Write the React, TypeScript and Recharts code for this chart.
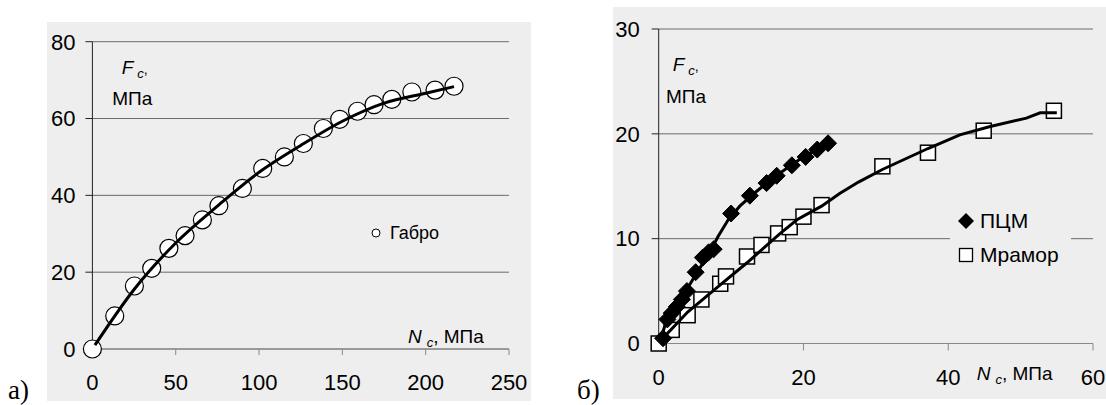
import React from 'react';
import { ComposedChart, Scatter, Line, XAxis, YAxis, CartesianGrid, Legend } from 'recharts';

// а) Габро
const gabbroX = [0, 13.4, 25.2, 35.6, 45.9, 55.6, 66, 75.9, 90, 102.2, 115.2, 126.6, 138.6, 148.4, 159.1, 169, 179.7, 191.7, 205.6, 217];
const gabbroY = [0, 8.6, 16.4, 21, 26.2, 29.5, 33.6, 37.3, 41.8, 47, 50, 53.5, 57.4, 59.8, 61.9, 63.6, 65, 66.9, 67.4, 68.4];
const gabbroFitX = [1.5, 25, 50, 75, 100, 125, 150, 175, 200, 217];
const gabbroFitY = [1, 15.5, 27.6, 37.2, 46, 53, 59.3, 64, 66.6, 68.3];

// б) ПЦМ и Мрамор
const pcmX = [0.6, 1.2, 1.8, 2.5, 3.2, 3.9, 5.1, 6.1, 6.9, 7.6, 10.0, 12.6, 14.9, 16.3, 18.4, 20.3, 21.9, 23.4];
const pcmY = [0.5, 2.3, 2.9, 3.5, 4.2, 5.0, 6.8, 8.2, 8.7, 9.0, 12.4, 14.1, 15.3, 16.0, 17.0, 17.8, 18.5, 19.1];
const pcmFitX = [0.3, 1, 2, 4, 5.5, 7, 8.2, 9.6, 11.2, 13.5, 15.8, 18.1, 20.4, 23.2];
const pcmFitY = [0.5, 2.0, 3.4, 5.3, 7.0, 8.6, 10.2, 11.8, 13.1, 14.5, 15.8, 16.9, 18.0, 18.9];

const marbleX = [0, 1.8, 4.0, 5.9, 8.5, 9.3, 12.2, 14.2, 16.5, 18.1, 20.0, 22.5, 30.9, 37.2, 44.9, 54.6];
const marbleY = [0, 1.3, 2.7, 4.2, 5.7, 6.4, 8.3, 9.4, 10.5, 11.1, 12.1, 13.2, 16.9, 18.2, 20.3, 22.2];
const marbleFitX = [0.3, 4, 8.5, 12.2, 16.8, 19.1, 22.5, 25, 27.6, 30.9, 37.2, 41.6, 45.8, 50.8, 52.7, 55];
const marbleFitY = [0.3, 3.0, 5.6, 7.7, 10.5, 11.8, 13.1, 14.3, 15.4, 16.6, 18.6, 19.9, 20.7, 21.5, 22.0, 22.0];

const leftXTicks = [0, 50, 100, 150, 200, 250];
const leftYTicks = [0, 20, 40, 60, 80];
const rightXTicks = [0, 20, 40, 60];
const rightYTicks = [0, 10, 20, 30];

const toRows = (xs: number[], ys: number[]) => xs.map((x, i) => ({ x, y: ys[i] }));

const gabbro = toRows(gabbroX, gabbroY);
const gabbroFit = toRows(gabbroFitX, gabbroFitY);
const pcm = toRows(pcmX, pcmY);
const pcmFit = toRows(pcmFitX, pcmFitY);
const marble = toRows(marbleX, marbleY);
const marbleFit = toRows(marbleFitX, marbleFitY);

const FONT = "'Liberation Sans', Arial, sans-serif";
const BG = '#eeeeee';
const GRID = '#6a6a6a';
const tickStyle = { fill: '#000', fontSize: 22, fontFamily: FONT };

const CircleDot = (p: any) => <circle cx={p.cx} cy={p.cy} r={9} fill="#fff" stroke="#000" strokeWidth={1.2} />;
const DiamondDot = (p: any) => {
  const r = 8.5;
  return <polygon points={`${p.cx},${p.cy - r} ${p.cx + r},${p.cy} ${p.cx},${p.cy + r} ${p.cx - r},${p.cy}`} fill="#000" stroke="#000" />;
};
const SquareDot = (p: any) => <rect x={p.cx - 7.5} y={p.cy - 7.5} width={15} height={15} fill="#fff" stroke="#000" strokeWidth={1.5} />;

function GabbroLegend() {
  return (
    <div style={{ display: 'flex', alignItems: 'center', gap: 9, fontFamily: FONT, fontSize: 18, lineHeight: '20px', color: '#000' }}>
      <svg width={10} height={10}><circle cx={5} cy={5} r={4} fill="#fff" stroke="#000" strokeWidth={1} /></svg>
      <span>Габро</span>
    </div>
  );
}

function RightLegend() {
  const row = { display: 'flex', alignItems: 'center', gap: 6, height: 34 };
  return (
    <div style={{ display: 'inline-block', width: 104, background: BG, padding: '0 9px 0 8px', fontFamily: FONT, fontSize: 21, color: '#000' }}>
      <div style={row}>
        <svg width={16} height={16}><polygon points="8,0 16,8 8,16 0,8" fill="#000" /></svg>
        <span>ПЦМ</span>
      </div>
      <div style={row}>
        <svg width={16} height={16}><rect x={1.5} y={1.5} width={13} height={13} fill="#fff" stroke="#000" strokeWidth={1.3} /></svg>
        <span>Мрамор</span>
      </div>
    </div>
  );
}

function Txt({ left, top, size = 19, children, serif }: { left: number; top: number; size?: number; children: React.ReactNode; serif?: boolean }) {
  return (
    <div style={{ position: 'absolute', left, top, fontSize: size, lineHeight: 1, whiteSpace: 'nowrap', color: '#000', fontFamily: serif ? "'Liberation Serif', 'Times New Roman', serif" : FONT }}>
      {children}
    </div>
  );
}

const sub = { fontStyle: 'italic' as const, fontSize: 13, position: 'relative' as const, top: 4 };

function Fc() {
  return (
    <>
      <i>F</i>
      <span style={{ ...sub, marginLeft: 4 }}>c</span>
      <span style={{ fontSize: 14 }}>,</span>
    </>
  );
}

function Nc() {
  return (
    <>
      <i>N</i>
      <span style={{ ...sub, marginLeft: 5 }}>c</span>, МПа
    </>
  );
}

export default function App() {
  return (
    <div style={{ position: 'absolute', left: 0, top: 0, width: 1106, height: 405, background: '#fff', overflow: 'hidden' }}>
      <div style={{ position: 'absolute', left: 47, top: 22, background: BG }}>
        <ComposedChart width={484} height={379} margin={{ top: 19.7, right: 22, bottom: 22, left: 5.4 }}>
          <CartesianGrid horizontal vertical={false} stroke={GRID} />
          <XAxis
            dataKey="x"
            type="number"
            domain={[0, 250]}
            ticks={leftXTicks}
            height={30}
            stroke="#888"
            tickSize={6}
            tickMargin={19.5}
            tick={tickStyle}
          />
          <YAxis
            dataKey="y"
            type="number"
            domain={[0, 80]}
            ticks={leftYTicks}
            width={40}
            stroke="#222"
            tickSize={7}
            tickMargin={10}
            tick={tickStyle}
          />
          <Legend layout="horizontal" verticalAlign="middle" align="center" content={() => <GabbroLegend />} wrapperStyle={{ left: 324, top: 201, width: 'auto', height: 'auto' }} />
          <Scatter name="Габро" data={gabbro} shape={CircleDot} isAnimationActive={false} />
          <Line data={gabbroFit} dataKey="y" type="monotone" stroke="#000" strokeWidth={3} dot={false} activeDot={false} isAnimationActive={false} legendType="none" zIndex={900} />
        </ComposedChart>
      </div>

      <div style={{ position: 'absolute', left: 613, top: 7, background: BG }}>
        <ComposedChart width={493} height={392} margin={{ top: 22, right: 13, bottom: 25.5, left: 5.7 }}>
          <CartesianGrid horizontal vertical={false} stroke={GRID} />
          <XAxis
            dataKey="x"
            type="number"
            domain={[0, 60]}
            ticks={rightXTicks}
            height={30}
            stroke="#888"
            tickSize={7}
            tickMargin={19}
            tick={tickStyle}
          />
          <YAxis
            dataKey="y"
            type="number"
            domain={[0, 30]}
            ticks={rightYTicks}
            width={40}
            stroke="#222"
            tickSize={7}
            tickMargin={12}
            tick={tickStyle}
          />
          <Legend layout="horizontal" verticalAlign="middle" align="center" content={() => <RightLegend />} wrapperStyle={{ left: 337, top: 197, width: 'auto', height: 'auto' }} />
          <Scatter name="Мрамор" data={marble} shape={SquareDot} isAnimationActive={false} />
          <Scatter name="ПЦМ" data={pcm} shape={DiamondDot} isAnimationActive={false} />
          <Line data={marbleFit} dataKey="y" type="linear" stroke="#000" strokeWidth={3} dot={false} activeDot={false} isAnimationActive={false} legendType="none" zIndex={900} />
          <Line data={pcmFit} dataKey="y" type="linear" stroke="#000" strokeWidth={3} dot={false} activeDot={false} isAnimationActive={false} legendType="none" zIndex={900} />
        </ComposedChart>
      </div>

      <Txt left={121.7} top={57.7}><Fc /></Txt>
      <Txt left={112.3} top={88.7}>МПа</Txt>
      <Txt left={408} top={327.4}><Nc /></Txt>

      <Txt left={672.7} top={54.7}><Fc /></Txt>
      <Txt left={666} top={86.7}>МПа</Txt>
      <Txt left={976.7} top={363.7}><Nc /></Txt>

      <Txt left={8} top={377} size={27} serif>а)</Txt>
      <Txt left={577} top={377} size={27} serif>б)</Txt>
    </div>
  );
}
